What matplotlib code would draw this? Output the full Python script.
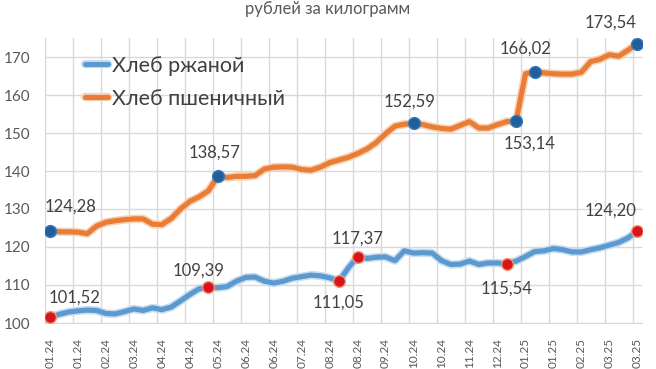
import numpy as np
import matplotlib
matplotlib.use('Agg')
import matplotlib.pyplot as plt
import matplotlib.patheffects as pe

plt.rcParams['font.family'] = ['Lato', 'Open Sans', 'DejaVu Sans']

# weekly prices, rub per kg
title = 'рублей за килограмм'
series_names = ['Хлеб ржаной', 'Хлеб пшеничный']

tick_labels = ['01.24', '01.24', '02.24', '03.24', '04.24', '04.24', '05.24',
               '06.24', '06.24', '07.24', '08.24', '08.24', '09.24', '10.24',
               '10.24', '11.24', '12.24', '01.25', '01.25', '02.25', '03.25',
               '03.25']

rye = [101.52, 102.3, 102.9, 103.2, 103.4, 103.3, 102.5, 102.4, 103.0, 103.7,
       103.3, 104.0, 103.5, 104.2, 105.8, 107.5, 109.0, 109.39, 109.3, 109.6,
       111.0, 112.0, 112.1, 111.0, 110.5, 111.0, 111.8, 112.2, 112.6, 112.4,
       111.9, 111.05, 114.5, 117.37, 117.0, 117.3, 117.4, 116.4, 119.0, 118.4,
       118.5, 118.4, 116.4, 115.4, 115.5, 116.3, 115.4, 115.8, 115.8, 115.54,
       116.3, 117.5, 118.8, 119.0, 119.6, 119.3, 118.7, 118.7, 119.3, 119.8,
       120.5, 121.2, 122.4, 124.20]

wheat = [124.28, 124.0, 124.0, 123.9, 123.5, 125.5, 126.5, 126.9, 127.2, 127.4,
         127.4, 126.0, 125.9, 127.5, 130.0, 132.0, 133.2, 134.8, 138.57, 138.3,
         138.6, 138.6, 138.8, 140.5, 141.0, 141.1, 141.0, 140.4, 140.2, 141.0,
         142.2, 142.9, 143.6, 144.6, 145.8, 147.5, 149.8, 151.8, 152.3, 152.59,
         152.2, 151.6, 151.2, 151.0, 152.0, 153.0, 151.3, 151.3, 152.2, 153.0,
         153.14, 165.6, 166.02, 165.8, 165.6, 165.5, 165.5, 166.0, 168.8, 169.4,
         170.6, 170.2, 171.8, 173.54]

rye_marks = [0, 17, 31, 33, 49, 63]
wheat_marks = [0, 18, 39, 50, 52, 63]

# label offsets (points) from the marker
rye_offsets = [(18, 14), (-7, 12), (0, -15.5), (0, 13), (0, -17.5), (-19, 14.5)]
wheat_offsets = [(15, 17), (-2.5, 17), (-3, 15.5), (10, -16.5), (-7, 17), (-19, 15)]

blue = '#5B9AD0'
orange = '#EA7D35'
grid_c = '#D9D9D9'
text_c = '#404040'

x = np.arange(len(rye))

fig = plt.figure(figsize=(6.56, 3.69), dpi=100)
ax = fig.add_axes([45.3 / 656, 1 - 323 / 369, (642 - 45.3) / 656, (323 - 38) / 369])

l1, = ax.plot(x, rye, color=blue, lw=3.7, solid_capstyle='round', zorder=3,
              path_effects=[pe.Stroke(linewidth=6, foreground='#C9DDF0'), pe.Normal()])
l2, = ax.plot(x, wheat, color=orange, lw=3.7, solid_capstyle='round', zorder=3,
              path_effects=[pe.Stroke(linewidth=6, foreground='#F8D2B6'), pe.Normal()])

ax.plot(x[rye_marks], np.array(rye)[rye_marks], 'o', ms=8.5, color='#D8141F',
        mec='#F09A70', mew=1, zorder=4)
ax.plot(x[wheat_marks], np.array(wheat)[wheat_marks], 'o', ms=8.5, color='#1F5F9B',
        mec='#3A78B5', mew=1, zorder=4)

for idxs, vals, offs in [(rye_marks, rye, rye_offsets), (wheat_marks, wheat, wheat_offsets)]:
    for i, o in zip(idxs, offs):
        ax.annotate(f'{vals[i]:.2f}'.replace('.', ','), (x[i], vals[i]),
                    xytext=o, textcoords='offset points', ha='center', va='center',
                    fontsize=12, color=text_c, zorder=5)

ax.set_xlim(-0.5, len(x) - 0.5)
ax.set_ylim(100, 175)
ax.set_yticks(np.arange(100, 171, 10))
ax.set_xticks(x[::3])
ax.set_xticklabels(tick_labels, rotation=90)
ax.set_xticks(np.arange(-0.5, len(x), 3), minor=True)
ax.tick_params(axis='x', which='both', length=0, pad=11, labelsize=8.5, labelcolor='#595959')
ax.tick_params(axis='y', length=0, pad=11, labelsize=11, labelcolor='#595959')
ax.grid(axis='y', color=grid_c, lw=1)
ax.grid(axis='x', which='minor', color=grid_c, lw=1)
for s in ['top', 'right']:
    ax.spines[s].set_visible(False)
ax.spines['left'].set_color(grid_c)
ax.spines['bottom'].set_color(grid_c)

ax.legend([l1, l2], series_names, loc='upper left', bbox_to_anchor=(0.048, 0.975),
          frameon=False, fontsize=15.5, handlelength=1.1, handletextpad=0.15,
          borderpad=0, labelspacing=0.6, labelcolor=text_c)

fig.text(328 / 656, 1 - 9 / 369, title, ha='center', va='center', fontsize=12,
         color='#595959')

fig.savefig('out.png', dpi=100)
